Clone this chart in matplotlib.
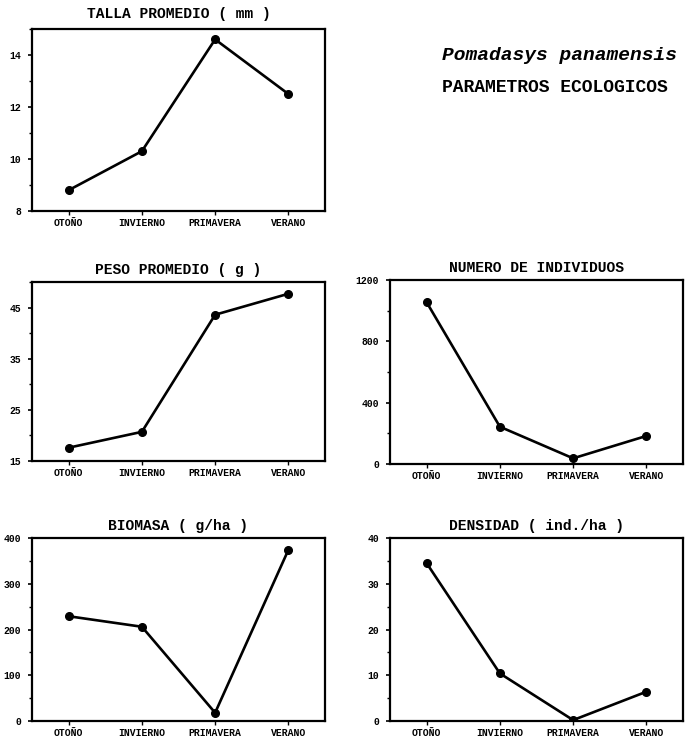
import matplotlib
matplotlib.use("Agg")
from matplotlib import pyplot as plt
from matplotlib.ticker import MultipleLocator
import numpy as np

plt.rcParams["font.family"] = ["Liberation Mono", "DejaVu Sans Mono"]
plt.rcParams["font.weight"] = "bold"

# Seasonal ecological parameters for Pomadasys panamensis
seasons = ["OTOÑO", "INVIERNO", "PRIMAVERA", "VERANO"]
talla = [8.8, 10.3, 14.6, 12.5]          # mm
peso = [17.6, 20.7, 43.6, 47.7]          # g
individuos = [1055, 243, 37, 183]
biomasa = [229, 206, 18, 374]            # g/ha
densidad = [34.5, 10.4, 0.2, 6.4]        # ind./ha

talla_ticks = [8, 10, 12, 14]
peso_ticks = [15, 25, 35, 45]
individuos_ticks = [0, 400, 800, 1200]
biomasa_ticks = [0, 100, 200, 300, 400]
densidad_ticks = [0, 10, 20, 30, 40]

W, H = 685, 737


def px_axes(fig, left, top, right, bottom):
    # axes box given in pixel coordinates measured from the top-left corner
    return fig.add_axes([left / W, 1 - bottom / H, (right - left) / W, (bottom - top) / H])


def panel(ax, values, title, ylim, ticks, minor, pad_title=6):
    x = np.arange(len(seasons))
    ax.plot(x, values, color="black", lw=1.9, marker="o", ms=5.5,
            solid_joinstyle="round")
    ax.set_xlim(-0.5, 3.5)
    ax.set_ylim(*ylim)
    ax.set_xticks(x)
    ax.set_xticklabels(seasons, fontsize=7, fontweight="bold")
    ax.set_yticks(ticks)
    ax.set_yticklabels([str(t) for t in ticks], fontsize=7, fontweight="bold")
    ax.yaxis.set_minor_locator(MultipleLocator(minor))
    ax.tick_params(axis="y", which="major", direction="out", length=3, width=1.2, pad=5)
    ax.tick_params(axis="y", which="minor", direction="out", length=2, width=1)
    ax.tick_params(axis="x", direction="out", length=3, width=1, pad=2)
    for sp in ax.spines.values():
        sp.set_linewidth(1.6)
    ax.set_title(title, fontsize=10.5, fontweight="bold", pad=pad_title)


fig = plt.figure(figsize=(W / 100, H / 100), dpi=100)

ax1 = px_axes(fig, 32, 29, 325, 211)
panel(ax1, talla, "TALLA PROMEDIO ( mm )", (8, 15), talla_ticks, 1, pad_title=8)

ax2 = px_axes(fig, 32, 282, 325, 461)
panel(ax2, peso, "PESO PROMEDIO ( g )", (15, 50), peso_ticks, 5)

ax3 = px_axes(fig, 390, 280, 683, 464)
panel(ax3, individuos, "NUMERO DE INDIVIDUOS", (0, 1200), individuos_ticks, 200)

ax4 = px_axes(fig, 32, 538, 325, 721)
panel(ax4, biomasa, "BIOMASA ( g/ha )", (0, 400), biomasa_ticks, 50)

ax5 = px_axes(fig, 390, 538, 683, 721)
panel(ax5, densidad, "DENSIDAD ( ind./ha )", (0, 40), densidad_ticks, 5)

fig.text(442 / W, 1 - 55 / H, "Pomadasys panamensis", fontsize=14,
         fontweight="bold", style="italic", ha="left", va="center")
fig.text(442 / W, 1 - 88 / H, "PARAMETROS ECOLOGICOS", fontsize=13,
         fontweight="bold", ha="left", va="center")

fig.savefig("out.png", dpi=100)
